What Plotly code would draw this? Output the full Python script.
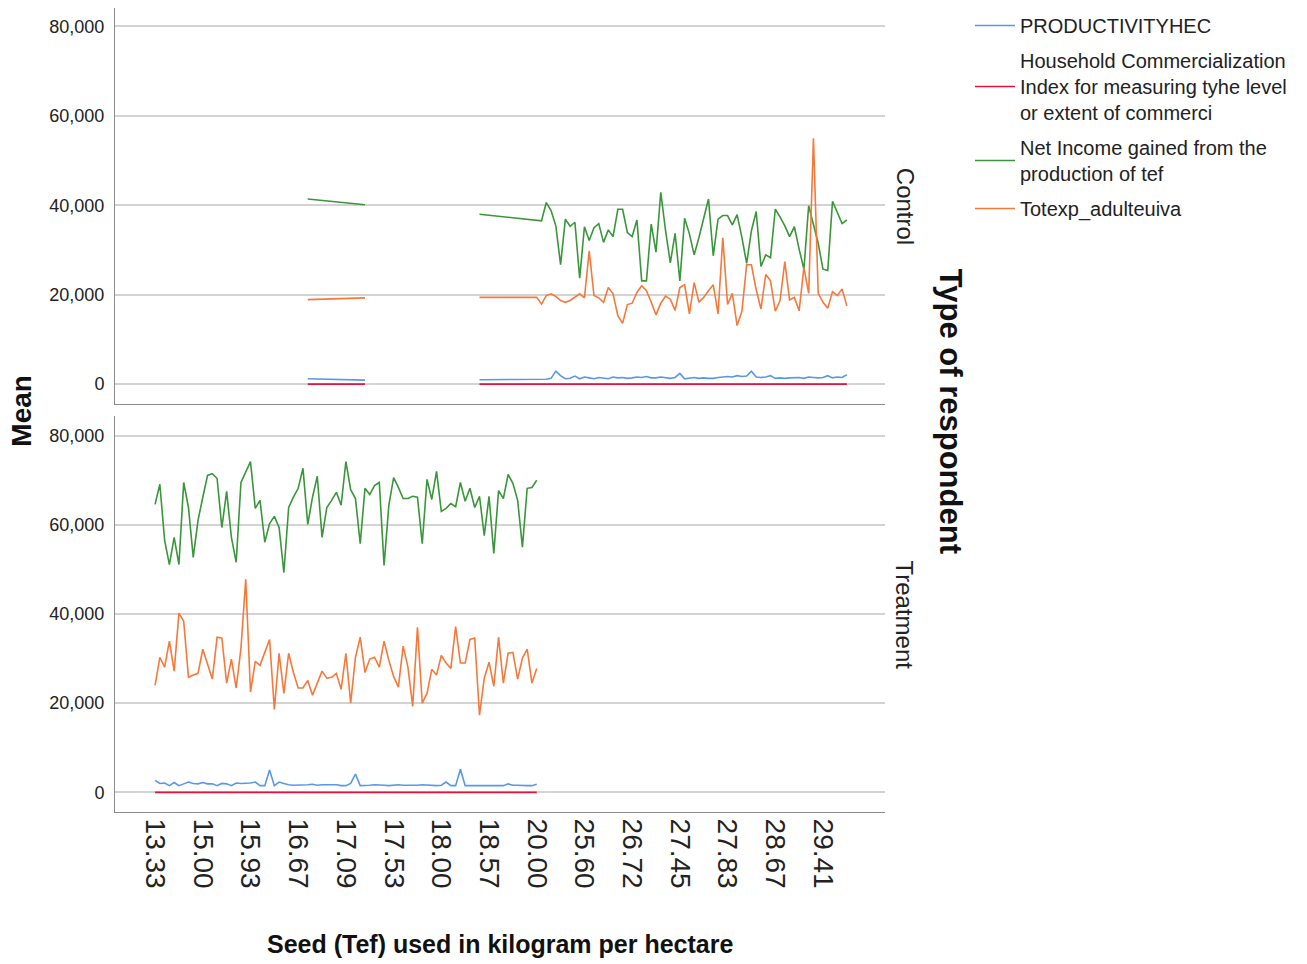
import plotly.graph_objects as go

# ---------------- data ----------------
tick_labels = ["13.33", "15.00", "15.93", "16.67", "17.09", "17.53", "18.00", "18.57",
               "20.00", "25.60", "26.72", "27.45", "27.83", "28.67", "29.41"]
tick_positions = [0, 10, 20, 30, 40, 50, 60, 70, 80, 90, 100, 110, 120, 130, 140]

series_names = [
    "PRODUCTIVITYHEC",
    "Household Commercialization<br>Index for measuring tyhe level<br>or extent of commerci",
    "Net Income gained from the<br>production of tef",
    "Totexp_adulteuiva",
]
series_colors = ["#5a98e6", "#e0143c", "#3a963a", "#f5793a"]

# Treatment: category positions 0..80
treat_x = list(range(81))
treat_productivity = [
    2700, 2000, 2100, 1500, 2200, 1500, 1900, 2300, 2000, 1900,
    2200, 1900, 1900, 1500, 2000, 1900, 1500, 2100, 2000, 2000,
    2100, 2300, 1500, 1500, 5000, 1500, 2300, 2000, 1700, 1600,
    1600, 1700, 1700, 1800, 1600, 1700, 1700, 1800, 1700, 1500,
    1500, 2000, 4100, 1500, 1500, 1600, 1700, 1700, 1600, 1500,
    1600, 1700, 1600, 1600, 1500, 1600, 1700, 1600, 1600, 1500,
    1600, 2300, 1500, 1500, 5200, 1500, 1500, 1500, 1600, 1500,
    1500, 1500, 1500, 1500, 1900, 1600, 1600, 1500, 1500, 1500,
    1800]
treat_commercialization = [
    0.45, 0.41, 0.47, 0.39, 0.44, 0.42, 0.48, 0.40, 0.43, 0.46,
    0.41, 0.44, 0.39, 0.47, 0.42, 0.45, 0.40, 0.43, 0.46, 0.41,
    0.44, 0.42, 0.48, 0.39, 0.45, 0.43, 0.41, 0.46, 0.40, 0.44,
    0.42, 0.47, 0.43, 0.41, 0.45, 0.39, 0.44, 0.46, 0.42, 0.40,
    0.43, 0.47, 0.41, 0.45, 0.42, 0.44, 0.40, 0.46, 0.43, 0.41,
    0.45, 0.42, 0.48, 0.39, 0.44, 0.43, 0.41, 0.46, 0.40, 0.45,
    0.42, 0.44, 0.47, 0.41, 0.43, 0.45, 0.40, 0.46, 0.42, 0.44,
    0.41, 0.43, 0.47, 0.40, 0.45, 0.42, 0.44, 0.46, 0.41, 0.43,
    0.45]
treat_net_income = [
    64600, 69100, 56500, 51100, 57200, 51100, 69500, 63900, 52700, 61000,
    66200, 71100, 71500, 70400, 59400, 67500, 57200, 51600, 69500, 71800,
    74200, 63700, 65500, 56100, 60300, 61900, 59400, 49300, 63900, 66200,
    68200, 72700, 60100, 66200, 70900, 57200, 63900, 65500, 67300, 64400,
    74200, 67900, 65900, 55800, 68200, 66800, 68800, 69500, 50900, 64400,
    70600, 68400, 65900, 65900, 66400, 66200, 55800, 70200, 65700, 72000,
    63000, 63700, 64800, 64100, 69500, 65300, 68200, 63900, 66400, 57600,
    66400, 53600, 67700, 65900, 71300, 69300, 65500, 55000, 68200, 68400,
    70000]
treat_totexp = [
    24000, 30300, 28100, 33900, 27200, 40200, 38400, 25800, 26300, 26700,
    32100, 29000, 25400, 34800, 34600, 24500, 29900, 23400, 32300, 47800,
    22500, 29400, 28500, 31400, 34300, 18600, 31200, 22200, 31200, 26900,
    23400, 23400, 25100, 21800, 24700, 27200, 25600, 25800, 26700, 23100,
    31200, 20000, 30300, 34800, 26900, 29900, 30300, 28100, 33900, 29600,
    26000, 23600, 32800, 28100, 19300, 37000, 20000, 22200, 27600, 26300,
    30700, 29000, 27800, 37200, 29000, 29000, 34300, 34600, 17300, 25600,
    29200, 23800, 34800, 24500, 31200, 31400, 25400, 30100, 32100, 24500,
    27800]

# Control: category positions (a gap marker at 56 breaks the line)
control_x = [32, 44, 56, 68, 80] + list(range(81, 146))
control_productivity = [
    1200, 900, None, 1000, 1000,
    1000, 1100, 1300, 2900, 1900, 1200, 1300, 1800, 1200, 1600,
    1400, 1200, 1500, 1300, 1200, 1600, 1400, 1500, 1300, 1400,
    1600, 1500, 1700, 1400, 1400, 1600, 1400, 1300, 1500, 2400,
    1200, 1400, 1500, 1300, 1400, 1300, 1300, 1500, 1600, 1700,
    1600, 1900, 1700, 1800, 2900, 1600, 1500, 1600, 1900, 1300,
    1400, 1300, 1400, 1500, 1500, 1300, 1600, 1500, 1400, 1500,
    1900, 1400, 1600, 1500, 2100]
control_commercialization = [
    0.40, 0.42, None, 0.38, 0.41,
    0.39, 0.43, 0.40, 0.42, 0.37, 0.41, 0.44, 0.39, 0.40, 0.42,
    0.38, 0.41, 0.43, 0.40, 0.39, 0.42, 0.41, 0.38, 0.44, 0.40,
    0.42, 0.39, 0.41, 0.43, 0.40, 0.38, 0.42, 0.41, 0.39, 0.43,
    0.40, 0.42, 0.38, 0.41, 0.44, 0.39, 0.40, 0.42, 0.41, 0.38,
    0.43, 0.40, 0.39, 0.42, 0.41, 0.40, 0.38, 0.43, 0.41, 0.39,
    0.42, 0.40, 0.41, 0.44, 0.38, 0.40, 0.42, 0.39, 0.41, 0.43,
    0.40, 0.39, 0.42, 0.41, 0.40]
control_net_income = [
    41400, 40100, None, 38000, 36600,
    36500, 40600, 38800, 35400, 26700, 36900, 35300, 36200, 23700, 35200,
    32100, 35000, 35900, 31700, 34500, 33000, 39100, 39100, 33900, 33000,
    36700, 23100, 23100, 35800, 29500, 42900, 34300, 27100, 33700, 23100,
    37100, 33600, 28900, 32800, 36900, 41400, 28700, 36900, 37700, 37700,
    35600, 37900, 32800, 27000, 34300, 38600, 26300, 28900, 28300, 39100,
    37400, 35400, 33000, 35200, 30200, 25700, 39900, 35800, 31500, 25700,
    25400, 40900, 38400, 35900, 36700]
control_totexp = [
    18900, 19300, None, 19400, 19400,
    17900, 19800, 20200, 19600, 18700, 18300, 18700, 19400, 20200, 19300,
    29800, 19800, 19300, 18300, 21600, 20200, 15300, 13600, 17800, 18100,
    20500, 22000, 20900, 18300, 15500, 18100, 19700, 19000, 16500, 21600,
    22200, 15700, 22700, 18300, 19400, 20900, 22200, 15700, 32700, 17800,
    20300, 13100, 16300, 26700, 26700, 21100, 16800, 24500, 23100, 16300,
    18700, 27400, 18800, 19400, 16400, 26100, 20300, 55000, 20300, 18300,
    17000, 20700, 19800, 21300, 17500]

y_ticks = [0, 20000, 40000, 60000, 80000]

# ---------------- figure ----------------
REG = "Liberation Sans, Arial, sans-serif"

fig = go.Figure()

control_series = [control_productivity, control_commercialization, control_net_income, control_totexp]
treat_series = [treat_productivity, treat_commercialization, treat_net_income, treat_totexp]

for i, (name, col) in enumerate(zip(series_names, series_colors)):
    fig.add_trace(go.Scatter(
        x=control_x, y=control_series[i], mode="lines", name=name,
        line=dict(color=col, width=1.6), legendgroup=str(i), showlegend=True,
        connectgaps=False, xaxis="x", yaxis="y"))
for i, (name, col) in enumerate(zip(series_names, series_colors)):
    fig.add_trace(go.Scatter(
        x=treat_x, y=treat_series[i], mode="lines", name=name,
        line=dict(color=col, width=1.6), legendgroup=str(i), showlegend=False,
        xaxis="x2", yaxis="y2"))

H_TOP, H_BOT = 7, 964 - 811.7
span = 964 - H_TOP - H_BOT

def py(pix):
    return (811.7 - pix) / span

def px(pix):
    return (pix - 115) / 770.0

axis_line = "#8c8c8c"
grid_col = "#d3d3d3"

common_y = dict(tickvals=y_ticks, tickformat=",d", showgrid=True, gridcolor=grid_col,
                gridwidth=2, zeroline=False, showline=True, linecolor=axis_line,
                linewidth=1, ticks="", ticklabelstandoff=6,
                tickfont=dict(family=REG, size=18, color="#222"))
common_x = dict(range=[-8.4, 153.0], showgrid=False, zeroline=False, showline=True,
                linecolor=axis_line, linewidth=1, tickvals=tick_positions,
                ticktext=tick_labels, ticks="")

fig.update_layout(
    width=1307, height=964,
    margin=dict(l=115, r=422, t=H_TOP, b=H_BOT),
    plot_bgcolor="white", paper_bgcolor="white",
    xaxis=dict(**common_x, showticklabels=False, anchor="y", matches="x2"),
    xaxis2=dict(**common_x, showticklabels=True, anchor="y2", tickangle=90,
                tickfont=dict(family=REG, size=28, color="#222")),
    yaxis=dict(**common_y, range=[-4360, 84100], domain=[py(403), 1.0], anchor="x"),
    yaxis2=dict(**common_y, range=[-4410, 84500], domain=[0.0, py(415)], anchor="x2"),
    legend=dict(x=px(970), xanchor="left", y=py(6), yanchor="top",
                font=dict(family=REG, size=20, color="#222"),
                tracegroupgap=6, itemwidth=40, bgcolor="rgba(0,0,0,0)"),
)

annotations = [
    dict(text="<b>Mean</b>", x=px(22), y=py(410), textangle=-90,
         font=dict(family=REG, size=28, color="#111")),
    dict(text="<b>Type of respondent</b>", x=px(950), y=py(410), textangle=90,
         font=dict(family=REG, size=31, color="#111")),
    dict(text="Control", x=px(905), y=py(205), textangle=90,
         font=dict(family=REG, size=24, color="#222")),
    dict(text="Treatment", x=px(905), y=py(614), textangle=90,
         font=dict(family=REG, size=24, color="#222")),
    dict(text="<b>Seed (Tef) used in kilogram per hectare</b>", x=px(500), y=py(944),
         font=dict(family=REG, size=25, color="#111")),
]
for a in annotations:
    a.update(xref="paper", yref="paper", showarrow=False, xanchor="center", yanchor="middle")
fig.update_layout(annotations=annotations)

fig.write_html("out.html", config={"displayModeBar": False},
               post_script="document.body.style.margin='0px';")
